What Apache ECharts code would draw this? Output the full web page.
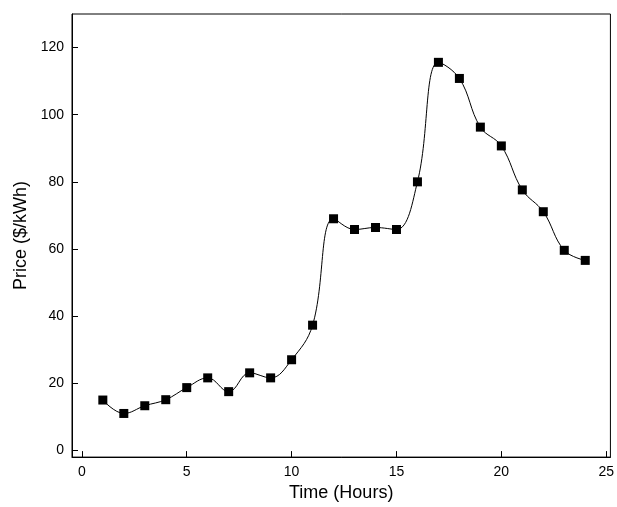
<!DOCTYPE html>
<html>
<head>
<meta charset="utf-8">
<script src="https://cdn.jsdelivr.net/npm/echarts@6/dist/echarts.min.js"></script>
<style>html,body{margin:0;padding:0;background:#fff}#chart{width:617px;height:507px}</style>
</head>
<body>
<div id="chart"></div>
<script>
// hourly prices
var hours = [1,2,3,4,5,6,7,8,9,10,11,12,13,14,15,16,17,18,19,20,21,22,23,24];
var prices = [15,11,13.3,15.1,18.7,21.6,17.5,23.1,21.6,27,37.3,69,65.8,66.4,65.8,80,115.6,110.8,96.3,90.7,77.6,71.1,59.6,56.6];
var xTicks = [0,5,10,15,20,25];
var yTicks = [0,20,40,60,80,100,120];

var myChart = echarts.init(document.getElementById('chart'));

var lbl = { color: '#000', fontSize: 14, fontFamily: 'Arial, Liberation Sans' };
var nameStyle = { color: '#000', fontSize: 18, fontFamily: 'Arial, Liberation Sans' };

var option = {
    backgroundColor: '#fff',
    animation: false,
    grid: { left: 72, right: 3, top: 14, bottom: 47, show: true, borderColor: '#000', borderWidth: 1 },
    xAxis: {
        type: 'value', min: -0.47, max: 25.2,
        name: 'Time (Hours)', nameLocation: 'middle', nameGap: 26, nameTextStyle: nameStyle,
        axisLine: { show: true, onZero: false, lineStyle: { color: '#000' } },
        axisTick: { show: true, inside: true, length: 6, customValues: xTicks, lineStyle: { color: '#000' } },
        axisLabel: Object.assign({ customValues: xTicks }, lbl),
        splitLine: { show: false }
    },
    yAxis: {
        type: 'value', min: -2, max: 130,
        name: 'Price ($/kWh)', nameLocation: 'middle', nameGap: 40, nameTextStyle: nameStyle,
        axisLine: { show: true, onZero: false, lineStyle: { color: '#000' } },
        axisTick: { show: true, inside: true, length: 6, customValues: yTicks, lineStyle: { color: '#000' } },
        axisLabel: Object.assign({ customValues: yTicks }, lbl),
        splitLine: { show: false }
    },
    series: [
        {
            type: 'line',
            data: hours.map(function (h, i) { return [h, prices[i]]; }),
            smooth: 0.4,
            symbol: 'rect',
            symbolSize: 9,
            itemStyle: { color: '#000' },
            lineStyle: { color: '#000', width: 1 }
        }
    ]
};

myChart.setOption(option);
</script>
</body>
</html>
